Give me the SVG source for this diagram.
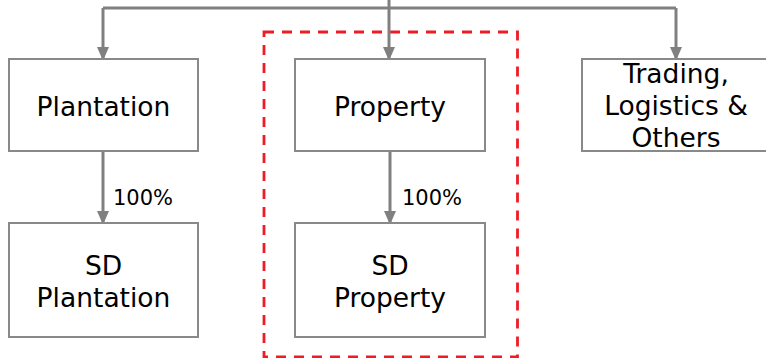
<svg xmlns="http://www.w3.org/2000/svg" width="766" height="358" viewBox="0 0 766 358">
<defs>
<style>
.box{fill:#fff;stroke:#898989;stroke-width:2}
.lbl{font-family:"DejaVu Sans",Verdana,sans-serif;font-size:26.5px;fill:#000;text-anchor:middle}
.pct{font-family:"DejaVu Sans",Verdana,sans-serif;font-size:21px;fill:#000}
.con{fill:none;stroke:#808080;stroke-width:3}
</style>
<marker id="ah" markerWidth="14" markerHeight="16" refX="14" refY="7" orient="auto" markerUnits="userSpaceOnUse" viewBox="0 0 16 14">
<path d="M0,0 L16,7 L0,14 Z" fill="#808080"/>
</marker>
</defs>
<rect id="highlight" x="264" y="32" width="253.5" height="325" fill="none" stroke="#ee1c25" stroke-width="2.8" stroke-dasharray="10,8"/>
<g id="connectors">
<path class="con" d="M389,0 V8"/>
<path class="con" d="M103,8 H676"/>
<path class="con" d="M103,8 V59" marker-end="url(#ah)"/>
<path class="con" d="M389,8 V59" marker-end="url(#ah)"/>
<path class="con" d="M676,8 V59" marker-end="url(#ah)"/>
<path class="con" d="M103,151 V223" marker-end="url(#ah)"/>
<path class="con" d="M390,151 V223" marker-end="url(#ah)"/>
<text class="pct" x="113" y="205">100%</text>
<text class="pct" x="402" y="205">100%</text>
</g>
<g id="plantation">
<rect class="box" x="9" y="59" width="189" height="92"/>
<text class="lbl" x="103.5" y="116">Plantation</text>
</g>
<g id="property">
<rect class="box" x="295" y="59" width="190" height="92"/>
<text class="lbl" x="390" y="116">Property</text>
</g>
<g id="trading">
<rect class="box" x="582" y="59" width="188" height="92"/>
<text class="lbl" x="676" y="83">Trading,</text>
<text class="lbl" x="676" y="115">Logistics &amp;</text>
<text class="lbl" x="676" y="147">Others</text>
</g>
<g id="sd-plantation">
<rect class="box" x="9" y="223" width="189" height="114"/>
<text class="lbl" x="103.5" y="275">SD</text>
<text class="lbl" x="103.5" y="307">Plantation</text>
</g>
<g id="sd-property">
<rect class="box" x="295" y="223" width="190" height="114"/>
<text class="lbl" x="390" y="275">SD</text>
<text class="lbl" x="390" y="307">Property</text>
</g>
</svg>
